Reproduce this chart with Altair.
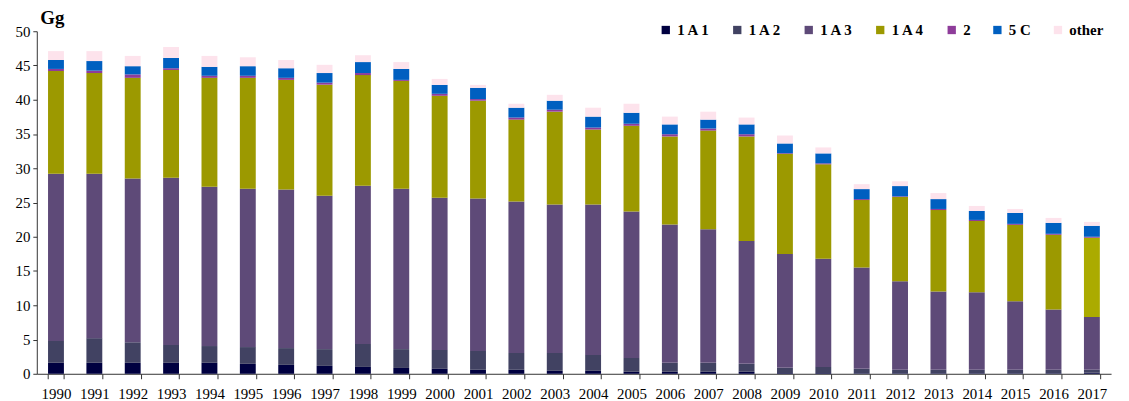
import altair as alt
import pandas as pd

years = [str(y) for y in range(1990, 2018)]

s_1a1 = [1.6, 1.6, 1.6, 1.6, 1.6, 1.45, 1.3, 1.15, 1.0, 0.85, 0.72, 0.58, 0.58, 0.43, 0.43, 0.29, 0.29, 0.29,
         0.29, 0.1, 0.1, 0.08, 0.08, 0.08, 0.08, 0.08, 0.08, 0.15]
s_1a2 = [3.2, 3.6, 3.0, 2.6, 2.45, 2.45, 2.45, 2.45, 3.35, 2.75, 2.76, 2.75, 2.46, 2.61, 2.32, 2.01, 1.31, 1.31,
         1.16, 0.77, 0.9, 0.64, 0.5, 0.5, 0.5, 0.5, 0.5, 0.43]
s_1a3 = [24.4, 24.0, 23.9, 24.4, 23.25, 23.1, 23.15, 22.4, 23.1, 23.4, 22.22, 22.24, 22.1, 21.66, 21.95, 21.4,
         20.2, 19.5, 17.95, 16.63, 15.8, 14.78, 12.92, 11.42, 11.32, 10.02, 8.82, 7.72]
s_1a4 = [15.0, 14.7, 14.7, 15.75, 15.9, 16.2, 16.0, 16.2, 16.15, 15.75, 14.88, 14.29, 11.96, 13.56, 10.95, 12.5,
         12.84, 14.4, 15.24, 14.6, 13.78, 9.86, 12.3, 11.9, 10.4, 11.14, 10.89, 11.56]
s_2 = [0.3, 0.35, 0.5, 0.25, 0.3, 0.3, 0.3, 0.3, 0.3, 0.15, 0.29, 0.24, 0.3, 0.29, 0.29, 0.3, 0.33, 0.3, 0.33,
       0.1, 0.14, 0.14, 0.1, 0.16, 0.16, 0.14, 0.14, 0.14]
s_5c = [1.3, 1.4, 1.2, 1.5, 1.3, 1.4, 1.4, 1.4, 1.6, 1.6, 1.3, 1.64, 1.44, 1.31, 1.6, 1.6, 1.43, 1.3, 1.43, 1.42,
        1.45, 1.46, 1.5, 1.44, 1.31, 1.6, 1.6, 1.6]
s_other = [1.3, 1.45, 1.5, 1.6, 1.6, 1.3, 1.2, 1.2, 1.0, 1.0, 0.87, 0.43, 0.58, 0.86, 1.3, 1.32, 1.14, 1.16, 1.0,
           1.16, 0.87, 0.72, 0.7, 0.88, 0.73, 0.58, 0.72, 0.57]

categories = ["1 A 1", "1 A 2", "1 A 3", "1 A 4", "2", "5 C", "other"]
colors = ["#000040", "#414262", "#5E4A78", "#9C9900", "#8E3C9A", "#005FC0", "#FDE3EC"]
series = [s_1a1, s_1a2, s_1a3, s_1a4, s_2, s_5c, s_other]

rows = []
for ci, (cat, vals) in enumerate(zip(categories, series)):
    for y, v in zip(years, vals):
        rows.append({"year": y, "cat": cat, "value": v, "ord": ci})
df = pd.DataFrame(rows)

serif = "Liberation Serif"

chart = alt.Chart(df).mark_bar().encode(
    x=alt.X("year:N", sort=years,
            scale=alt.Scale(paddingInner=0.586, paddingOuter=0.293),
            axis=alt.Axis(title=None, labelAngle=0, labelFont=serif, labelFontSize=15,
                          labelColor="#000", tickBand="extent", tickSize=5, tickColor="#333",
                          domainColor="#333", labelPadding=8, grid=False)),
    y=alt.Y("value:Q", stack="zero",
            scale=alt.Scale(domain=[0, 50], nice=False),
            axis=alt.Axis(values=list(range(0, 51, 5)), grid=False, labelFont=serif, labelFontSize=15,
                          labelColor="#000", tickSize=4, tickColor="#333", domainColor="#333",
                          labelPadding=3, title="Gg", titleAngle=0, titleFont=serif, titleFontSize=19,
                          titleFontWeight="bold", titleAlign="left", titleBaseline="alphabetic",
                          titleX=3, titleY=-8, titleColor="#000")),
    color=alt.condition(
        "datum.year == '2017' && datum.cat == '1 A 4'",
        alt.value("#ABAB00"),
        alt.Color("cat:N", scale=alt.Scale(domain=categories, range=colors),
                  legend=alt.Legend(title=None, orient="none", direction="horizontal",
                                    legendX=626, legendY=-9, labelFont=serif, labelFontSize=15,
                                    labelFontWeight="bold", labelColor="#000", symbolType="square",
                                    symbolSize=70, symbolStrokeWidth=0, columnPadding=19,
                                    labelOffset=4, columns=7))
    ),
    order=alt.Order("ord:Q", sort="ascending"),
).properties(
    width=1082, height=345,
    autosize=alt.AutoSizeParams(type="none"),
    padding={"left": 29, "top": 22, "right": 10, "bottom": 26},
).configure_view(stroke=None)

chart.save("out.html", embed_options={"renderer": "svg", "actions": False})
